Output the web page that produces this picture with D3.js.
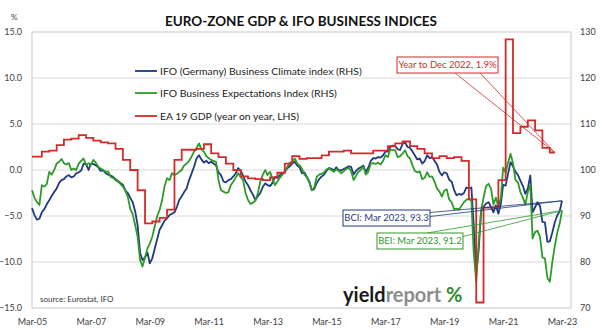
<!DOCTYPE html>
<html>
<head>
<meta charset="utf-8">
<script src="https://d3js.org/d3.v7.min.js"></script>
<style>
body { margin: 0; background: #fff; }
text { font-family: Lato, "Open Sans", sans-serif; }
</style>
</head>
<body>
<div id="chart"></div>
<script>
// ---- data ----
// IFO Business Climate index, monthly Mar-05 .. Mar-23 (RHS)
var bci = [
  91.7, 90.2, 89.2, 89.4, 90.8, 91.5, 92.6, 93.4, 94.4, 95.2,
  96.0, 97.2, 97.8, 98.0, 98.6, 98.9, 98.4, 98.6, 99.3, 99.5, 99.9, 101.4,
  101.2, 100.0, 101.4, 101.3, 101.0, 100.6, 99.8, 99.9, 99.3, 99.0, 98.8, 98.5,
  98.0, 97.6, 97.2, 96.8, 95.6, 95.0, 94.0, 93.0, 91.0, 88.0, 82.0, 80.4,
  81.0, 82.0, 79.7, 80.8, 82.9, 85.0, 87.0, 88.0, 89.0, 89.5, 90.2, 90.5,
  90.8, 92.0, 93.5, 94.3, 95.2, 96.0, 97.8, 99.2, 100.7, 102.5, 103.2, 102.3,
  101.6, 102.0, 101.5, 101.8, 101.4, 101.0, 99.5, 98.9, 97.5, 97.3, 97.8, 98.0,
  98.6, 99.3, 100.4, 99.8, 98.8, 97.5, 96.7, 95.6, 94.6, 93.5, 94.3, 95.0,
  96.3, 97.1, 96.7, 96.5, 97.2, 98.5, 98.3, 98.9, 99.3, 99.6, 100.4, 100.8,
  101.4, 101.8, 101.0, 100.6, 99.3, 99.5, 98.5, 97.5, 95.6, 95.9, 97.2, 98.0,
  98.6, 99.0, 99.8, 100.4, 100.3, 99.9, 100.6, 100.0, 99.9, 100.2, 100.5, 100.8,
  100.7, 99.0, 99.8, 100.3, 100.6, 101.0, 99.5, 100.5, 102.0, 102.6, 102.5, 102.8,
  102.7, 103.2, 104.0, 104.0, 105.0, 105.3, 105.2, 104.5, 104.4, 105.7, 106.0, 105.0,
  104.8, 104.0, 103.2, 102.3, 102.5, 101.4, 101.9, 103.2, 102.6, 102.8, 102.0, 101.2,
  99.6, 98.8, 99.5, 99.3, 97.9, 97.5, 95.7, 94.5, 94.8, 94.6, 95.0, 96.2,
  96.0, 96.2, 88.0, 77.5, 82.5, 91.0, 92.0, 92.7, 93.0, 92.0, 90.8, 92.3,
  90.5, 92.7, 96.8, 96.6, 99.2, 101.7, 100.8, 99.6, 98.9, 97.7, 96.5, 94.8,
  96.0, 98.8, 90.8, 91.9, 93.0, 92.2, 88.7, 88.6, 84.4, 84.5, 86.4, 88.6,
  90.1, 91.1, 93.3
];
// IFO Business Expectations index, monthly Mar-05 .. Mar-23 (RHS)
var bei = [
  95.6, 94.0, 93.0, 92.4, 96.7, 96.4, 97.0, 99.6, 99.0, 100.0,
  101.4, 101.8, 102.4, 101.5, 101.2, 101.5, 100.0, 100.3, 100.0, 101.4, 102.0, 102.5,
  101.1, 101.5, 101.1, 102.2, 101.6, 100.7, 100.3, 100.0, 99.6, 99.7, 98.5, 98.3,
  97.8, 97.5, 97.0, 96.4, 95.5, 94.2, 91.6, 90.4, 88.0, 85.5, 80.4, 79.0,
  81.0, 83.0, 84.0, 85.5, 87.7, 90.0, 91.3, 93.5, 96.5, 98.2, 97.8, 99.3,
  98.9, 99.2, 99.6, 100.0, 101.0, 101.4, 102.0, 102.9, 104.0, 104.7, 105.8, 104.5,
  104.0, 103.0, 102.6, 102.2, 102.0, 101.8, 97.8, 95.6, 95.3, 95.0, 95.2, 96.7,
  97.5, 98.4, 99.3, 98.5, 97.8, 95.0, 93.5, 92.6, 92.9, 93.3, 95.0, 97.5,
  99.0, 100.0, 98.9, 99.6, 98.0, 96.7, 97.5, 98.3, 99.0, 99.6, 100.7, 101.6,
  101.8, 102.5, 101.5, 101.0, 100.3, 99.0, 98.4, 97.3, 95.6, 96.2, 98.5, 99.0,
  99.2, 99.5, 100.1, 100.4, 100.0, 99.6, 100.2, 99.8, 99.3, 99.7, 100.2, 100.5,
  99.8, 97.8, 98.7, 99.6, 100.0, 100.8, 99.0, 99.6, 101.4, 101.5, 101.3, 101.6,
  101.2, 102.0, 103.2, 102.8, 104.5, 104.3, 104.3, 102.8, 103.0, 103.6, 104.3, 103.0,
  102.5, 101.0, 99.8, 99.5, 99.7, 98.0, 98.3, 99.5, 98.5, 98.6, 97.5, 96.0,
  95.3, 94.2, 95.5, 95.8, 93.6, 93.0, 91.5, 91.6, 91.4, 92.2, 93.0, 93.5,
  93.8, 93.3, 82.0, 75.7, 84.0, 91.3, 94.0, 96.5, 97.0, 96.0, 92.5, 94.0,
  92.0, 94.0, 100.5, 99.5, 101.6, 103.5, 101.5, 97.8, 97.3, 95.2, 94.0, 92.5,
  95.2, 96.8, 85.1, 86.5, 86.8, 85.5, 81.0, 80.8, 76.5, 75.7, 80.0, 83.4,
  86.4, 88.4, 91.2
];
// EA19 GDP, year on year %, quarterly Q1-05 .. Q4-22 (LHS)
var gdp = [
  1.45, 1.45, 2.0, 2.1,
  2.7, 3.3, 3.4, 3.8,
  3.5, 3.2, 3.0, 2.9,
  2.3, 1.1, 0.0, -2.2,
  -5.8, -5.6, -5.2, -4.3,
  1.1, 2.2, 2.2, 2.3,
  2.8, 1.8, 1.4, 0.7,
  0.0, -0.7, -0.9, -1.0,
  -1.1, -0.8, -0.3, 0.7,
  1.5, 1.2, 1.3, 1.3,
  1.6, 2.0, 2.0, 2.1,
  1.8, 1.8, 1.8, 2.1,
  2.1, 2.6, 2.9, 3.1,
  2.6, 2.3, 1.8, 1.3,
  1.5, 1.3, 1.4, 1.0,
  -3.2, -14.4, -4.1, -4.1,
  -1.1, 14.2, 4.0, 4.7,
  5.4, 4.3, 2.4, 1.9
];
var leftTicks = [-15, -10, -5, 0, 5, 10, 15];
var rightTicks = [70, 80, 90, 100, 110, 120, 130];
var xTickYears = [2005, 2007, 2009, 2011, 2013, 2015, 2017, 2019, 2021, 2023];
var seriesNames = ["IFO (Germany) Business Climate index (RHS)",
                   "IFO Business Expectations Index (RHS)",
                   "EA 19 GDP (year on year, LHS)"];
var seriesColors = ["#1f3a7d", "#2e9a2a", "#d42a2a"];

// ---- layout ----
var W = 602, H = 330;
var pL = 32, pR = 571, pT = 32, pB = 308;

var svg = d3.select("#chart").append("svg")
    .attr("width", W)
    .attr("height", H);

var months = d3.timeMonth.range(new Date(2005, 2, 1), new Date(2023, 3, 1));

var x = d3.scaleTime()
    .domain([new Date(2005, 2, 1), new Date(2023, 2, 1)])
    .range([pL, 562]);
var yL = d3.scaleLinear().domain([-15, 15]).range([pB, pT]);
var yR = d3.scaleLinear().domain([70, 130]).range([pB, pT]);

// grid
svg.append("g")
  .selectAll("line")
  .data(leftTicks.slice(1, -1))
  .enter()
  .append("line")
    .attr("x1", pL).attr("x2", pR)
    .attr("y1", function(d) { return yL(d); })
    .attr("y2", function(d) { return yL(d); })
    .attr("stroke", "#d9d9d9")
    .attr("stroke-width", 1);

svg.append("rect")
    .attr("x", pL).attr("y", pT)
    .attr("width", pR - pL).attr("height", pB - pT)
    .attr("fill", "none")
    .attr("stroke", "#c8c8c8");

// axes
var axL = svg.append("g")
    .attr("transform", "translate(" + (pL - 10) + ",0)")
    .call(d3.axisLeft(yL).tickValues(leftTicks).tickFormat(d3.format(".1f")).tickSize(0));
var axR = svg.append("g")
    .attr("transform", "translate(" + (pR + 9) + ",0)")
    .call(d3.axisRight(yR).tickValues(rightTicks).tickFormat(d3.format("d")).tickSize(0));
var axB = svg.append("g")
    .attr("transform", "translate(0," + (pB + 8) + ")")
    .call(d3.axisBottom(x)
      .tickValues(xTickYears.map(function(y) { return new Date(y, 2, 1); }))
      .tickFormat(d3.timeFormat("%b-%y"))
      .tickSize(0));
[axL, axR, axB].forEach(function(a) {
  a.select(".domain").remove();
  a.selectAll("text")
    .attr("fill", "#404040")
    .style("font-size", "9px")
    .style("font-family", "Lato, sans-serif");
});
axL.selectAll("text").attr("x", 0);
axR.selectAll("text").attr("x", 0);

// title
svg.append("text")
    .attr("x", 301).attr("y", 26)
    .attr("text-anchor", "middle")
    .style("font-size", "13.5px")
    .style("font-weight", "bold")
    .attr("fill", "#111")
    .text("EURO-ZONE GDP & IFO BUSINESS INDICES");
svg.append("text")
    .attr("x", 11).attr("y", 20)
    .style("font-size", "8px")
    .attr("fill", "#404040")
    .text("%");

// source + logo
svg.append("text")
    .attr("x", 40).attr("y", 302)
    .style("font-size", "8px")
    .attr("fill", "#333")
    .text("source: Eurostat, IFO");

var logo = svg.append("text")
    .attr("x", 343).attr("y", 302)
    .style("font-size", "20px")
    .style("font-weight", "bold");
logo.append("tspan").attr("fill", "#1a1a1a").text("yield");
logo.append("tspan").attr("fill", "#8c8c8c").text("report ");
logo.append("tspan").attr("fill", "#2e8b2e").text("%");

// lines
var lineR = function(vals) {
  return d3.line()
    .x(function(d, i) { return x(months[i]); })
    .y(function(d) { return yR(d); })(vals);
};
svg.append("path")
    .attr("d", lineR(bci))
    .attr("fill", "none")
    .attr("stroke", seriesColors[0])
    .attr("stroke-width", 1.8)
    .attr("stroke-linejoin", "round");
svg.append("path")
    .attr("d", lineR(bei))
    .attr("fill", "none")
    .attr("stroke", seriesColors[1])
    .attr("stroke-width", 1.8)
    .attr("stroke-linejoin", "round");

// GDP: each quarter's value held over its months
var quarterStarts = d3.timeMonth.range(new Date(2005, 0, 1), new Date(2023, 0, 1), 3);
var gdpPts = gdp.map(function(v, i) {
  var d = quarterStarts[i] < months[0] ? months[0] : quarterStarts[i];
  return { date: d, v: v };
});
gdpPts.push({ date: new Date(2022, 11, 1), v: gdp[gdp.length - 1] });
svg.append("path")
    .attr("d", d3.line()
      .curve(d3.curveStepAfter)
      .x(function(d) { return x(d.date); })
      .y(function(d) { return yL(d.v); })(gdpPts))
    .attr("fill", "none")
    .attr("stroke", seriesColors[2])
    .attr("stroke-width", 1.8);

// legend
var legY = [71, 93, 116];
seriesNames.forEach(function(name, i) {
  svg.append("line")
    .attr("x1", 135).attr("x2", 157)
    .attr("y1", legY[i]).attr("y2", legY[i])
    .attr("stroke", seriesColors[i])
    .attr("stroke-width", 1.8);
  svg.append("text")
    .attr("x", 160).attr("y", legY[i])
    .attr("dy", "0.35em")
    .style("font-size", "10.4px")
    .attr("fill", "#222")
    .text(name);
});

// callouts
function callout(bx, by, bw, bh, col, label, anchors, px, py) {
  anchors.forEach(function(a) {
    svg.append("line")
      .attr("x1", a[0]).attr("y1", a[1])
      .attr("x2", px).attr("y2", py)
      .attr("stroke", col)
      .attr("stroke-width", 0.8);
  });
  svg.append("rect")
    .attr("x", bx).attr("y", by)
    .attr("width", bw).attr("height", bh)
    .attr("fill", "#fff")
    .attr("stroke", col)
    .attr("stroke-width", 1);
  svg.append("text")
    .attr("x", bx + bw / 2).attr("y", by + bh / 2)
    .attr("dy", "0.35em")
    .attr("text-anchor", "middle")
    .style("font-size", "9.5px")
    .attr("fill", col)
    .text(label);
}
var lastM = months[months.length - 1];
callout(397, 57, 101, 16, seriesColors[2], "Year to Dec 2022, 1.9%",
  [[455, 73], [480, 73]], x(new Date(2022, 11, 1)), yL(gdp[gdp.length - 1]));
callout(343, 210, 87, 16, seriesColors[0], "BCI: Mar 2023, 93.3",
  [[430, 212.5], [430, 216.5]], x(lastM), yR(bci[bci.length - 1]));
callout(377, 233, 86, 16, seriesColors[1], "BEI: Mar 2023, 91.2",
  [[427, 233], [463, 236.5]], x(lastM), yR(bei[bei.length - 1]));
</script>
</body>
</html>
